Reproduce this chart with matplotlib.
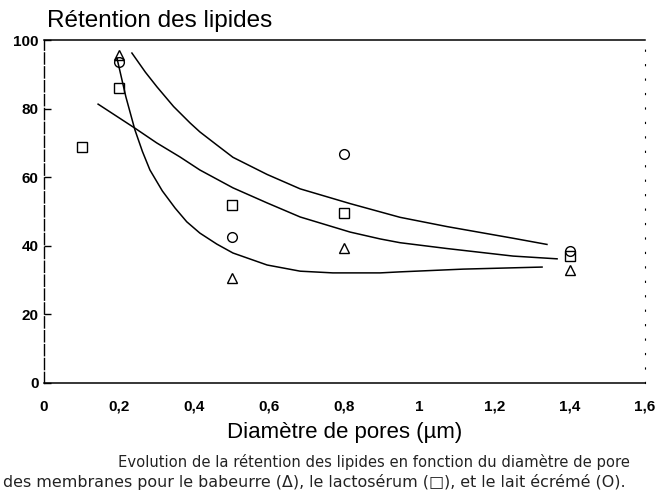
import numpy as np
import matplotlib
matplotlib.use('Agg')
import matplotlib.pyplot as plt

plt.rcParams['font.family'] = ['Liberation Sans', 'DejaVu Sans']

# points mesurés
babeurre_x = [0.2, 0.5, 0.8, 1.4]
babeurre_y = [95.5, 30.5, 39.5, 33.0]
lacto_x = [0.1, 0.2, 0.5, 0.8, 1.4]
lacto_y = [68.8, 86.0, 52.0, 49.5, 37.0]
lait_x = [0.2, 0.5, 0.8, 1.4]
lait_y = [93.5, 42.5, 66.8, 38.5]

# courbes
c_haut_x = [0.234, 0.27, 0.301, 0.345, 0.389, 0.415, 0.46, 0.503, 0.594, 0.682, 0.815, 0.948, 1.073, 1.249, 1.339]
c_haut_y = [96.2, 90.6, 86.3, 80.6, 75.8, 73.2, 69.4, 65.8, 60.8, 56.6, 52.3, 48.3, 45.6, 42.2, 40.4]
c_mil_x = [0.144, 0.242, 0.3, 0.362, 0.415, 0.503, 0.594, 0.682, 0.815, 0.895, 0.948, 1.073, 1.249, 1.366]
c_mil_y = [81.3, 74.3, 70.0, 65.9, 62.1, 56.9, 52.5, 48.4, 44.0, 42.0, 40.9, 39.2, 37.0, 36.2]
c_bas_x = [0.194, 0.218, 0.242, 0.262, 0.282, 0.315, 0.349, 0.38, 0.415, 0.46, 0.503, 0.594, 0.682, 0.769, 0.895, 0.948, 1.116, 1.326]
c_bas_y = [94.8, 83.4, 73.8, 67.5, 62.1, 56.0, 51.0, 47.0, 43.7, 40.5, 37.9, 34.4, 32.6, 32.1, 32.1, 32.4, 33.2, 33.8]

xticks = [0, 0.2, 0.4, 0.6, 0.8, 1, 1.2, 1.4, 1.6]
xtick_labels = ['0', '0,2', '0,4', '0,6', '0,8', '1', '1,2', '1,4', '1,6']
yticks = [0, 20, 40, 60, 80, 100]

fig = plt.figure(figsize=(6.55, 4.97), dpi=100)
ax = fig.add_axes([0.0672, 0.2294, 0.9175, 0.6901])

ax.plot(c_haut_x, c_haut_y, color='black', lw=1.1)
ax.plot(c_mil_x, c_mil_y, color='black', lw=1.1)
ax.plot(c_bas_x, c_bas_y, color='black', lw=1.1)

mk = dict(linestyle='none', mfc='none', mec='black', mew=1.0, ms=7)
ax.plot(babeurre_x, babeurre_y, marker='^', **mk)
ax.plot(lacto_x, lacto_y, marker='s', **mk)
ax.plot(lait_x, lait_y, marker='o', **mk)

ax.set_xlim(0, 1.6)
ax.set_ylim(0, 100)
ax.set_xticks(xticks)
ax.set_xticklabels(xtick_labels)
ax.set_yticks(yticks)
ax.tick_params(axis='x', length=0, pad=12, labelsize=11)
ax.tick_params(axis='y', direction='in', length=5, width=1, pad=4, labelsize=11)
for t in ax.get_yticklabels() + ax.get_xticklabels():
    t.set_fontweight('bold')

ax.spines['top'].set_linewidth(1.1)
ax.spines['bottom'].set_linewidth(1.1)
ax.spines['left'].set_linestyle((0, (8, 2)))
ax.spines['left'].set_linewidth(1.0)
ax.spines['right'].set_linestyle((0, (1, 12)))
ax.spines['right'].set_linewidth(0.8)

ax.set_xlabel('Diamètre de pores (µm)', fontsize=16, labelpad=6)
fig.text(0.072, 0.935, 'Rétention des lipides', fontsize=17.5, ha='left', va='bottom')

fig.text(0.18, 0.055, "Evolution de la rétention des lipides en fonction du diamètre de pore",
         fontsize=10.6, family='DejaVu Sans', ha='left', va='bottom', color='#222222')
fig.text(0.005, 0.015, "des membranes pour le babeurre (Δ), le lactosérum (□), et le lait écrémé (O).",
         fontsize=11.4, family='DejaVu Sans', ha='left', va='bottom', color='#222222')

fig.savefig('out.png', dpi=100)
